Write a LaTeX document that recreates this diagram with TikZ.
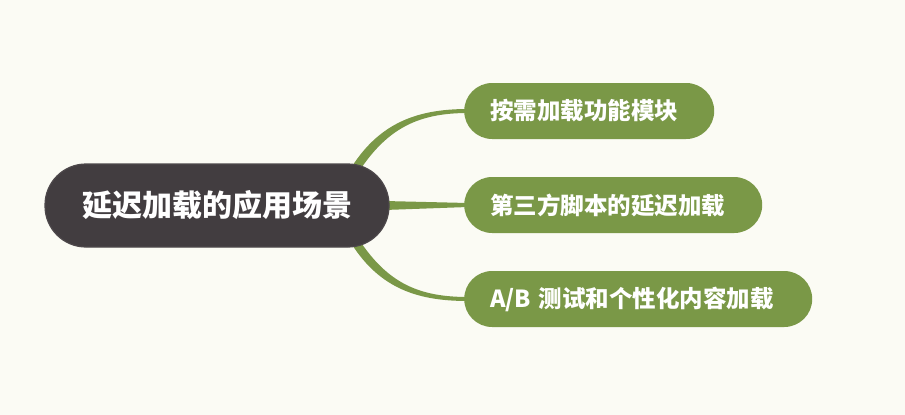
\documentclass[tikz,border=0pt]{standalone}
\usepackage{fontspec}
\newfontfamily\cjk{Noto Sans CJK SC}
\usetikzlibrary{calc}
\definecolor{bgc}{HTML}{FBFBF4}
\definecolor{rootc}{HTML}{423D40}
\definecolor{rootb}{HTML}{4D484B}
\definecolor{leafc}{HTML}{7A9847}
\pgfdeclarelayer{bgl}
\pgfdeclarelayer{conl}
\pgfsetlayers{bgl,conl,main}
\begin{document}
\begin{tikzpicture}[x=1pt,y=-1pt,
 rootnode/.style={fill=rootc, draw=rootb, line width=1.2pt, rounded corners=41pt,
   minimum width=344pt, minimum height=83pt, text=white,
   font=\cjk\bfseries\fontsize{30}{35}\selectfont, inner sep=0pt},
 leafnode/.style={fill=leafc, rounded corners=28pt, minimum height=56pt, text=white,
   font=\cjk\bfseries\fontsize{23.5}{28}\selectfont, inner xsep=26pt, inner ysep=0pt,
   align=left, anchor=west},
 connfill/.style={fill=leafc}]
\useasboundingbox (0,0) rectangle (905,415);
\begin{pgfonlayer}{bgl}
\fill[bgc] (0,0) rectangle (905,415);
\end{pgfonlayer}

\node[rootnode] (root) at (217,205.5) {延迟加载的应用场景};
\node[leafnode, text width=198pt] (l1) at (464,111) {按需加载功能模块};
\node[leafnode, text width=246pt] (l2) at (464,205) {第三方脚本的延迟加载};
\node[leafnode, text width=296pt] (l3) at (464,299) {A/B 测试和个性化内容加载};

\begin{pgfonlayer}{conl}
\fill[connfill] ($(root.east)+(-38,-38.5)$) .. controls (381,121) and (420,109) .. ($(l1.west)+(4,-2)$)
  -- ($(l1.west)+(4,2)$) .. controls (420,113) and (388,127) .. ($(root.east)+(-31,-33.5)$) -- cycle;
\fill[connfill] ($(root.east)+(-5,-4.5)$) -- ($(l2.west)+(4,-2)$) -- ($(l2.west)+(4,2)$) -- ($(root.east)+(-5,4.5)$) -- cycle;
\fill[connfill] ($(root.east)+(-38,38.5)$) .. controls (381,290) and (420,301) .. ($(l3.west)+(4,2)$)
  -- ($(l3.west)+(4,-2)$) .. controls (420,297) and (388,284) .. ($(root.east)+(-31,33.5)$) -- cycle;
\end{pgfonlayer}
\end{tikzpicture}
\end{document}
